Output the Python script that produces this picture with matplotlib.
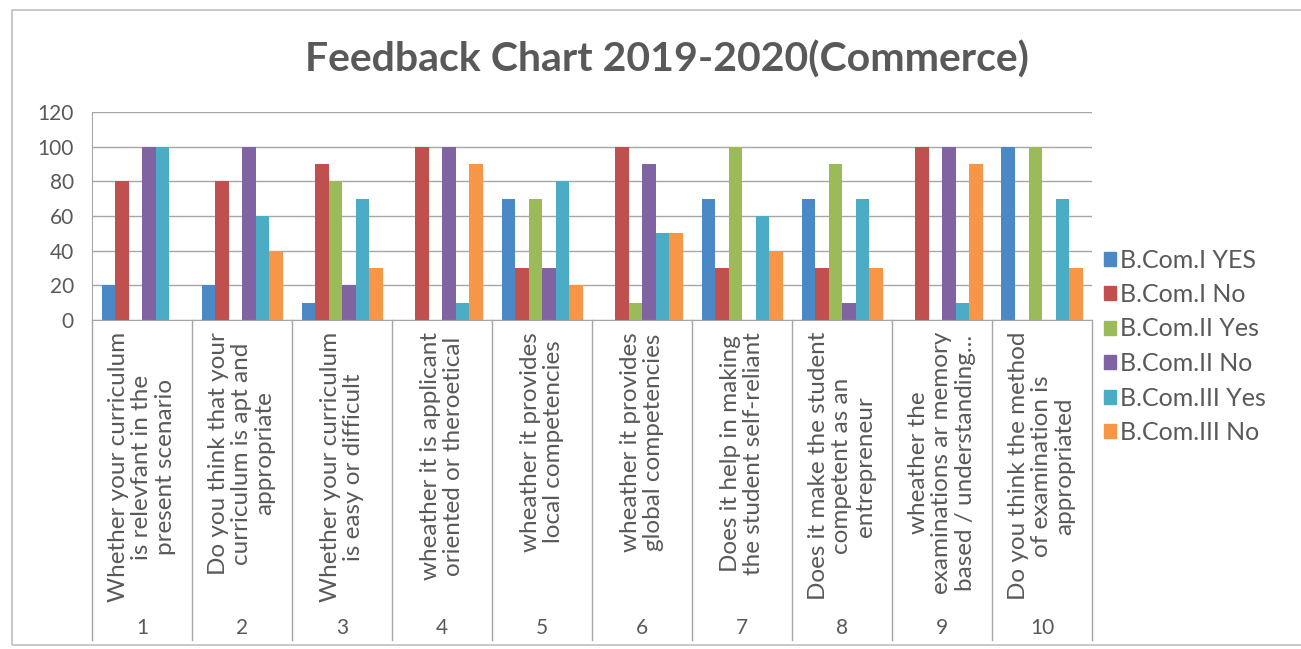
import matplotlib.pyplot as plt
from matplotlib.patches import Rectangle, Patch
import numpy as np

# data
categories = ["1", "2", "3", "4", "5", "6", "7", "8", "9", "10"]
questions = [
    "Whether your curriculum\nis relevfant in the\npresent scenario",
    "Do you think that your\ncurriculum is apt and\nappropriate",
    "Whether your curriculum\nis easy or difficult",
    "wheather it is applicant\noriented or theroetical",
    "wheather it provides\nlocal competencies",
    "wheather it provides\nglobal competencies",
    "Does it help in making\nthe student self-reliant",
    "Does it make the student\ncompetent as an\nentrepreneur",
    "wheather the\nexaminations ar memory\nbased / understanding...",
    "Do you think the method\nof examination is\nappropriated",
]
series_names = ["B.Com.I YES", "B.Com.I No", "B.Com.II Yes",
                "B.Com.II No", "B.Com.III Yes", "B.Com.III No"]
bcom1_yes = [20, 20, 10, 0, 70, 0, 70, 70, 0, 100]
bcom1_no = [80, 80, 90, 100, 30, 100, 30, 30, 100, 0]
bcom2_yes = [0, 0, 80, 0, 70, 10, 100, 90, 0, 100]
bcom2_no = [100, 100, 20, 100, 30, 90, 0, 10, 100, 0]
bcom3_yes = [100, 60, 70, 10, 80, 50, 60, 70, 10, 70]
bcom3_no = [0, 40, 30, 90, 20, 50, 40, 30, 90, 30]
colors = ["#4A88C6", "#C0504D", "#9BBB59", "#8064A2", "#4BACC6", "#F79646"]

series = [bcom1_yes, bcom1_no, bcom2_yes, bcom2_no, bcom3_yes, bcom3_no]

plt.rcParams['font.family'] = ['Lato', 'DejaVu Sans']
text_color = "#595959"
grid_color = "#A6A6A6"

W, H = 1301, 649
fig = plt.figure(figsize=(W / 100, H / 100), dpi=100)

# outer chart frame
fig.add_artist(Rectangle((12 / W, 1 - 645 / H), (W - 10) / W, (645 - 10) / H,
                         transform=fig.transFigure, fill=False,
                         edgecolor="#BFBFBF", linewidth=1.2))

left, right, top, bottom = 92, 1092, 112, 320
ax = fig.add_axes([left / W, 1 - bottom / H, (right - left) / W, (bottom - top) / H])

x = np.arange(len(categories))
bw = 0.135
for i, (vals, c) in enumerate(zip(series, colors)):
    ax.bar(x + (i - 2.5) * bw, vals, width=bw, color=c, label=series_names[i])

ax.set_xlim(-0.5, len(categories) - 0.5)
ax.set_ylim(0, 120)
ax.set_yticks(range(0, 121, 20))
ax.tick_params(axis='y', length=0, labelsize=15, labelcolor=text_color, pad=13)
ax.set_xticks([])
ax.yaxis.grid(True, color=grid_color, linewidth=1)
ax.set_axisbelow(True)
for s in ["top", "right"]:
    ax.spines[s].set_visible(False)
ax.spines["left"].set_color(grid_color)
ax.spines["bottom"].set_color(grid_color)

# category area below the plot: separators, rotated questions, numbers
bot_ax = -(640 - bottom) / (bottom - top)
trans = ax.get_xaxis_transform()
for b in np.arange(-0.5, len(categories) + 0.5, 1):
    ax.plot([b, b], [0, bot_ax], transform=trans, color=grid_color,
            linewidth=1, clip_on=False)
for xi, q, c in zip(x, questions, categories):
    ax.text(xi, -(332 - bottom) / (bottom - top), q, transform=trans,
            rotation=90, ha='center', va='top', multialignment='center',
            fontsize=17.5, color=text_color, linespacing=1.12)
    ax.text(xi, -(628 - bottom) / (bottom - top), c, transform=trans,
            ha='center', va='center', fontsize=15, color=text_color)

fig.text(667 / W, 1 - 60 / H, "Feedback Chart 2019-2020(Commerce)",
         ha='center', va='center', fontsize=29.5, fontweight='bold', color=text_color)

handles = [Patch(color=c) for c in colors]
fig.legend(handles, series_names, loc='upper left',
           bbox_to_anchor=(1081 / W, 1 - 226 / H), frameon=False,
           fontsize=18, labelcolor=text_color, handlelength=0.5,
           handleheight=0.5, handletextpad=0.15, labelspacing=0.46)

fig.savefig("out.png", dpi=100, facecolor="white")
